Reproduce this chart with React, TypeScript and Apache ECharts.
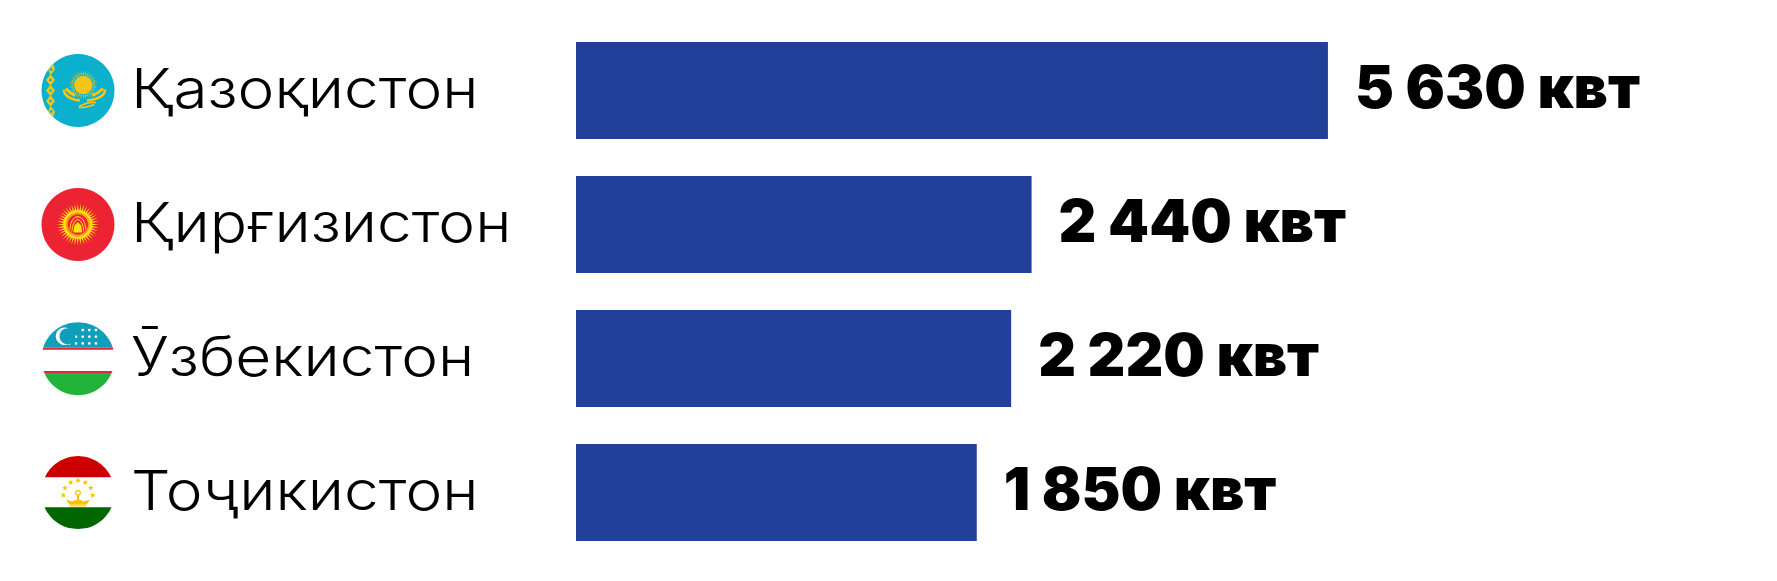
import React, { useEffect, useRef } from "react";
import * as echarts from "echarts";

const categories = ["Қазоқистон", "Қирғизистон", "Ӯзбекистон", "Тоҷикистон"];
const values = [5630, 2440, 2220, 1850];
const unit = "квт";
const axisMin = -2464;
const axisMax = 8000;

const FONT = "Inter, 'Noto Sans', sans-serif";
const BAR = "#224099";
const W = 1777;
const H = 581;
const FX = 78;
const R = 36.5;
const CY = [90.5, 224.5, 358.7, 492.6];

const fmt = (v: number) => String(v).replace(/\B(?=(\d{3})+$)/g, " ") + " " + unit;

const circ = (cx: number, cy: number, r: number, fill: string, extra: any = {}) => ({
  type: "circle", silent: true, shape: { cx, cy, r }, style: { fill, ...extra },
});
// Part of the flag disc between two horizontal cuts, as a polygon.
const band = (cy: number, y1: number, y2: number, fill: string) => {
  const pts: number[][] = [];
  const n = 30;
  for (let i = 0; i <= n; i++) {
    const y = y1 + ((y2 - y1) * i) / n;
    const d = Math.sqrt(Math.max(0, R * R - y * y));
    pts.push([FX + d, cy + y]);
  }
  for (let i = n; i >= 0; i--) {
    const y = y1 + ((y2 - y1) * i) / n;
    const d = Math.sqrt(Math.max(0, R * R - y * y));
    pts.push([FX - d, cy + y]);
  }
  return { type: "polygon", silent: true, shape: { points: pts }, style: { fill } };
};
const poly = (points: number[][], fill: string) => ({ type: "polygon", silent: true, shape: { points }, style: { fill } });
const rays = (cx: number, cy: number, r1: number, r2: number, n: number, half: number, fill: string) => {
  const out: any[] = [];
  for (let i = 0; i < n; i++) {
    const a = (i / n) * Math.PI * 2;
    out.push(poly([
      [cx + r1 * Math.cos(a - half), cy + r1 * Math.sin(a - half)],
      [cx + r2 * Math.cos(a), cy + r2 * Math.sin(a)],
      [cx + r1 * Math.cos(a + half), cy + r1 * Math.sin(a + half)],
    ], fill));
  }
  return out;
};
const star = (cx: number, cy: number, r: number, fill: string) => {
  const pts: number[][] = [];
  for (let i = 0; i < 10; i++) {
    const a = -Math.PI / 2 + (i * Math.PI) / 5;
    const q = i % 2 ? r * 0.42 : r;
    pts.push([cx + q * Math.cos(a), cy + q * Math.sin(a)]);
  }
  return poly(pts, fill);
};
const curve = (x1: number, y1: number, cx: number, cy: number, x2: number, y2: number, stroke: string, lineWidth: number) => ({
  type: "bezierCurve", silent: true,
  shape: { x1, y1, x2, y2, cpx1: cx, cpy1: cy },
  style: { stroke, lineWidth, fill: "none" },
});

function kazakh(cy: number) {
  const Y = "#F5C518";
  const T = "#0BB1CC";
  const sx = 83.3, sy = cy - 5.5;
  const out: any[] = [circ(FX, cy, R, T)];
  const edge = (dy: number) => FX - Math.sqrt(Math.max(0, R * R - dy * dy));
  for (let k = 0; k < 5; k++) {
    const dy = -21 + k * 10.5;
    const y = cy + dy;
    const top = dy - 5.8, bot = dy + 5.8;
    out.push(poly([
      [Math.max(50.5, edge(top)), cy + top],
      [55, y],
      [Math.max(50.5, edge(bot)), cy + bot],
      [Math.max(46, edge(dy)), y],
    ], Y));
    out.push(circ(Math.max(50.5, edge(dy) + 3), y, 1.3, T));
  }
  out.push(...rays(sx, sy, 10, 14.5, 32, 0.06, Y));
  out.push(circ(sx, sy, 9.2, Y));
  out.push(curve(64, cy - 1, 64, cy + 8, 80, cy + 10, Y, 2.6));
  out.push(curve(105, cy - 1, 105, cy + 8, 87, cy + 10, Y, 2.6));
  out.push(curve(66, cy - 2, 70, cy + 3, 75, cy + 5, Y, 3));
  out.push(curve(103, cy - 2, 98, cy + 3, 92, cy + 5, Y, 3));
  out.push(curve(79, cy + 16, 88, cy + 11, 96, cy + 12, Y, 1.6));
  out.push(curve(79, cy + 17, 88, cy + 17, 94, cy + 14, Y, 1.4));
  return out;
}
function kyrgyz(cy: number) {
  const Y = "#FFE014", Rd = "#EC2333", cx = 77.8;
  const out: any[] = [circ(FX, cy, R, Rd)];
  out.push(...rays(cx, cy, 12, 21, 40, 0.085, Y));
  out.push(circ(cx, cy, 14.5, Y));
  out.push(circ(cx, cy, 12.2, "#F9A01B"));
  out.push(circ(cx, cy, 10.2, Rd));
  out.push(poly([[cx - 4.5, cy + 8], [cx - 3.4, cy + 1], [cx, cy - 2.5], [cx + 3.4, cy + 1], [cx + 4.5, cy + 8]], Y));
  out.push(curve(cx - 8, cy + 5, cx - 7, cy - 8, cx + 1, cy - 8, Y, 1));
  out.push(curve(cx + 8, cy + 5, cx + 7, cy - 8, cx - 1, cy - 8, Y, 1));
  out.push(curve(cx - 6, cy + 7, cx - 5, cy - 4, cx, cy - 5, Y, 1));
  out.push(curve(cx + 6, cy + 7, cx + 5, cy - 4, cx, cy - 5, Y, 1));
  return out;
}
function uzbek(cy: number) {
  const out: any[] = [
    band(cy, -R, -11.2, "#0E9FBA"),
    band(cy, -11.2, -9, "#E8243C"),
    band(cy, 12.2, 14.4, "#E8243C"),
    band(cy, 14.4, R, "#22B43A"),
  ];
  const dy = [-28.7, -22, -15.3];
  const dx = [[82.7, 89.3, 96], [76, 82.7, 89.3, 96], [69.3, 76, 82.7, 89.3, 96]];
  dy.forEach((y, r) => dx[r].forEach((x) => out.push(circ(x, cy + y, 1.35, "#FFFFFF"))));
  out.push(circ(64.5, cy - 22.5, 8.7, "#FFFFFF"));
  out.push(circ(67.5, cy - 22.5, 8, "#0E9FBA"));
  return out;
}
function tajik(cy: number) {
  const G = "#F8C300";
  const out: any[] = [
    band(cy, -R, -15.3, "#CC0000"),
    band(cy, 14.7, R, "#006600"),
  ];
  const stars = [[-14.7, 2.6], [-13, -4.7], [-7.3, -10], [0, -12], [7.3, -10], [12.7, -4.7], [14.7, 2.6]];
  stars.forEach(([x, y]) => out.push(star(FX + x, cy + y, 3, G)));
  out.push({ type: "circle", silent: true, shape: { cx: FX, cy: cy + 0.2, r: 2.4 }, style: { fill: "none", stroke: G, lineWidth: 1.3 } });
  out.push(poly([
    [FX - 1, cy + 2.5], [FX + 1, cy + 2.5], [FX + 1, cy + 8], [FX - 1, cy + 8],
  ], G));
  out.push(poly([
    [FX - 12, cy + 7], [FX - 6, cy + 9], [FX, cy + 6.5], [FX + 6, cy + 9], [FX + 12, cy + 7],
    [FX + 8.5, cy + 12.2], [FX - 8.5, cy + 12.2],
  ], G));
  out.push(poly([[FX - 8.5, cy + 12.8], [FX + 8.5, cy + 12.8], [FX + 8.5, cy + 13.8], [FX - 8.5, cy + 13.8]], G));
  return out;
}

export default function App() {
  const ref = useRef<HTMLDivElement>(null);
  useEffect(() => {
    document.body.style.margin = "0";
    const chart = echarts.init(ref.current!, undefined, { renderer: "svg" });
    chart.setOption({
      animation: false,
      backgroundColor: "#ffffff",
      grid: { left: 576, right: W - 576 - (axisMax - axisMin) * 0.0929, top: 23.5, bottom: H - 559.5 },
      xAxis: { type: "value", min: axisMin, max: axisMax, show: false },
      yAxis: {
        type: "category",
        inverse: true,
        data: categories,
        axisLine: { show: false },
        axisTick: { show: false },
        axisLabel: { show: false },
      },
      series: [
        {
          type: "custom",
          encode: { x: 0, y: 1 },
          data: values.map((v, i) => [v, i]),
          renderItem: (_p: any, api: any) => {
            const v = api.value(0);
            const i = api.value(1);
            const start = api.coord([axisMin, i]);
            const end = api.coord([v, i]);
            const h = api.size([0, 1])[1] * 0.724;
            return {
              type: "group",
              children: [
                { type: "rect", shape: { x: start[0], y: end[1] - h / 2, width: end[0] - start[0], height: h }, style: { fill: BAR } },
                {
                  type: "text",
                  x: 131,
                  y: end[1] - 3,
                  scaleX: 1.13,
                  style: {
                    text: categories[i], x: 0, y: 0,
                    align: "left", verticalAlign: "middle",
                    fill: "#000000", fontFamily: FONT, fontWeight: 300, fontSize: 55,
                  },
                },
                {
                  type: "text",
                  style: {
                    text: fmt(v), x: end[0] + 27, y: end[1] - 4.5,
                    align: "left", verticalAlign: "middle",
                    fill: "#000000", fontFamily: FONT, fontWeight: 900, fontSize: 58.5,
                  },
                },
              ],
            };
          },
        },
      ],
      graphic: {
        elements: [...kazakh(CY[0]), ...kyrgyz(CY[1]), ...uzbek(CY[2]), ...tajik(CY[3])],
      },
    });
    return () => chart.dispose();
  }, []);
  return <div ref={ref} style={{ width: W, height: H }} />;
}
